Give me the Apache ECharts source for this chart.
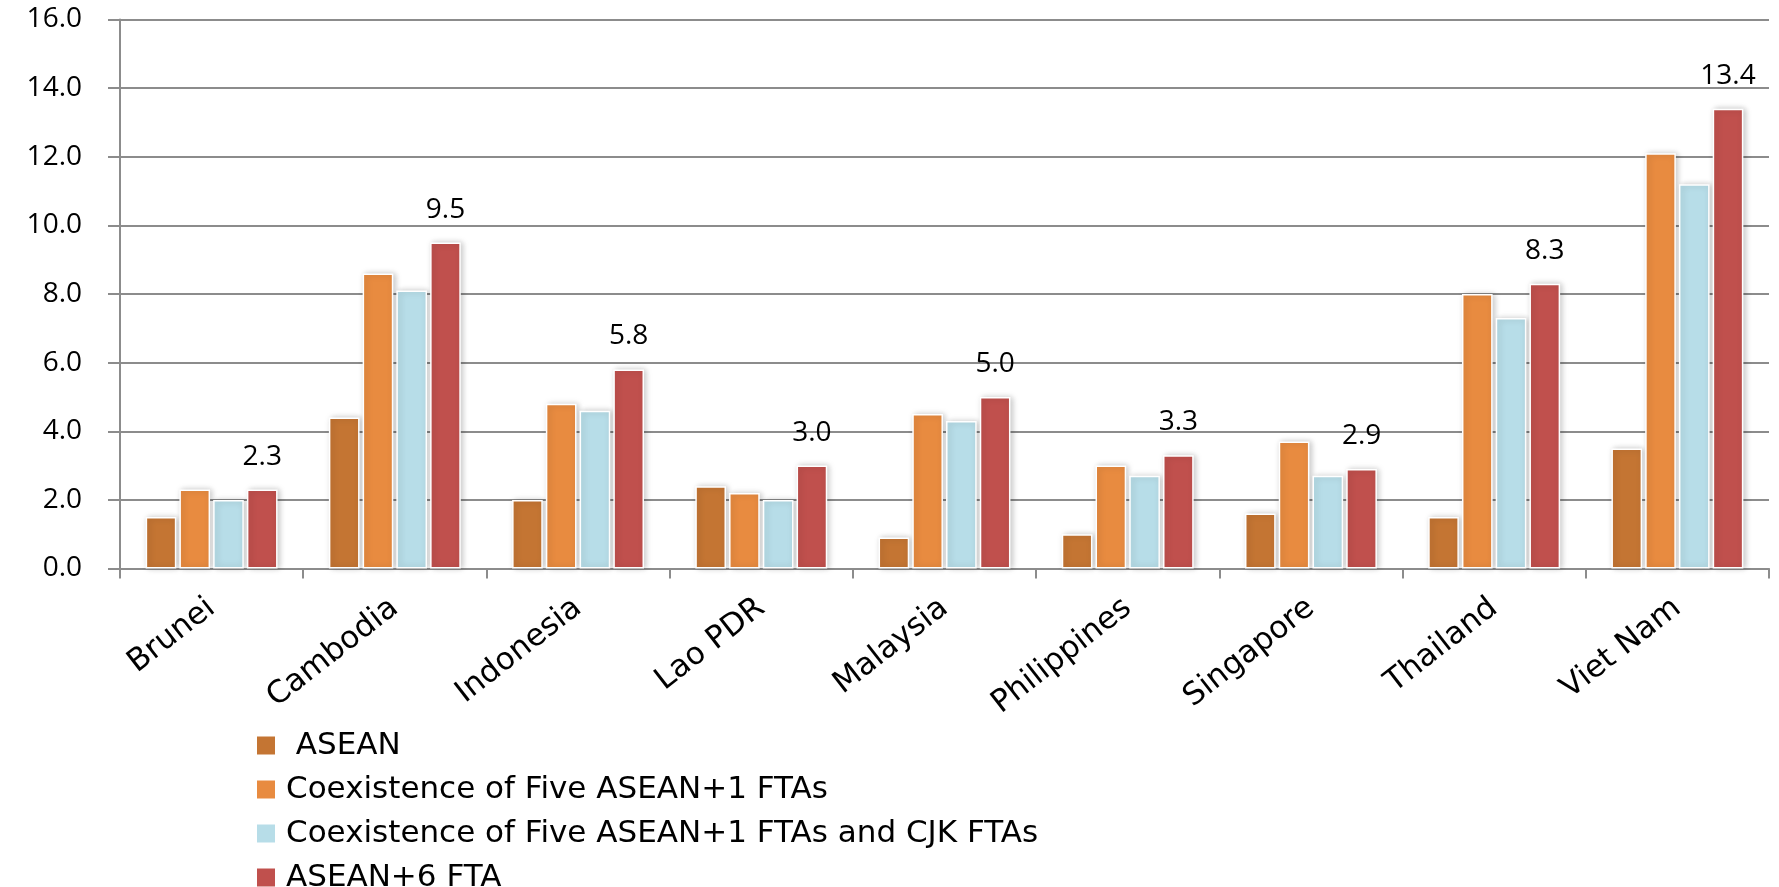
<!DOCTYPE html>
<html>
<head>
<meta charset="utf-8">
<script src="https://cdn.jsdelivr.net/npm/echarts@6/dist/echarts.min.js"></script>
<style>
  html, body { margin: 0; padding: 0; background: #fff; }
  #chart { width: 1779px; height: 887px; }
</style>
</head>
<body>
<div id="chart"></div>
<script>
var countries = ["Brunei", "Cambodia", "Indonesia", "Lao PDR", "Malaysia", "Philippines", "Singapore", "Thailand", "Viet Nam"];
var asean = [1.5, 4.4, 2.0, 2.4, 0.9, 1.0, 1.6, 1.5, 3.5];
var fiveFtas = [2.3, 8.6, 4.8, 2.2, 4.5, 3.0, 3.7, 8.0, 12.1];
var fiveFtasCjk = [2.0, 8.1, 4.6, 2.0, 4.3, 2.7, 2.7, 7.3, 11.2];
var asean6 = [2.3, 9.5, 5.8, 3.0, 5.0, 3.3, 2.9, 8.3, 13.4];

var seriesNames = [
  " ASEAN",
  "Coexistence of Five ASEAN+1 FTAs",
  "Coexistence of Five ASEAN+1 FTAs and CJK FTAs",
  "ASEAN+6 FTA"
];
var colors = ["#C47533", "#E88B40", "#B7DDE8", "#C0504D"];

var numFont = "Open Sans";
var textFont = "DejaVu Sans";

function barSeries(i, data, withLabel) {
  return {
    name: seriesNames[i],
    type: "bar",
    data: data,
    barGap: "10%",
    barCategoryGap: "28%",
    itemStyle: {
      color: colors[i],
      borderColor: "#ffffff",
      borderWidth: 1.5,
      shadowColor: "rgba(0,0,0,0.22)",
      shadowBlur: 6,
      shadowOffsetX: 2,
      shadowOffsetY: 0
    },
    label: {
      show: withLabel,
      position: "top",
      distance: 19,
      fontFamily: numFont,
      fontSize: 28,
      color: "#000",
      formatter: function (p) { return p.value.toFixed(1); }
    }
  };
}

var chart = echarts.init(document.getElementById("chart"));
chart.setOption({
  animation: false,
  grid: { left: 120, right: 10, top: 19.5, bottom: 318.5 },
  legend: {
    orient: "vertical",
    left: 250,
    top: 725,
    height: 300,
    itemWidth: 20,
    itemHeight: 20,
    itemGap: 13,
    icon: "rect",
    selectedMode: false,
    textStyle: { fontFamily: textFont, fontSize: 31, color: "#000", lineHeight: 30, padding: [0, 0, 0, 5] },
    data: seriesNames
  },
  xAxis: {
    type: "category",
    data: countries,
    axisLine: { lineStyle: { color: "#8c8c8c", width: 2 } },
    axisTick: { show: true, length: 10, lineStyle: { color: "#8c8c8c", width: 2 } },
    axisLabel: {
      rotate: 38,
      margin: 36,
      fontFamily: textFont,
      fontSize: 31,
      color: "#000",
      interval: 0
    }
  },
  yAxis: {
    type: "value",
    min: 0,
    max: 16,
    interval: 2,
    axisLine: { show: true, lineStyle: { color: "#8c8c8c", width: 2 } },
    axisTick: { show: true, length: 12, lineStyle: { color: "#8c8c8c", width: 2 } },
    splitLine: { lineStyle: { color: "#8c8c8c", width: 2 } },
    axisLabel: {
      margin: 38,
      fontFamily: numFont,
      fontSize: 28,
      color: "#000",
      formatter: function (v) { return v.toFixed(1); }
    }
  },
  series: [
    barSeries(0, asean, false),
    barSeries(1, fiveFtas, false),
    barSeries(2, fiveFtasCjk, false),
    barSeries(3, asean6, true)
  ]
});
</script>
</body>
</html>
